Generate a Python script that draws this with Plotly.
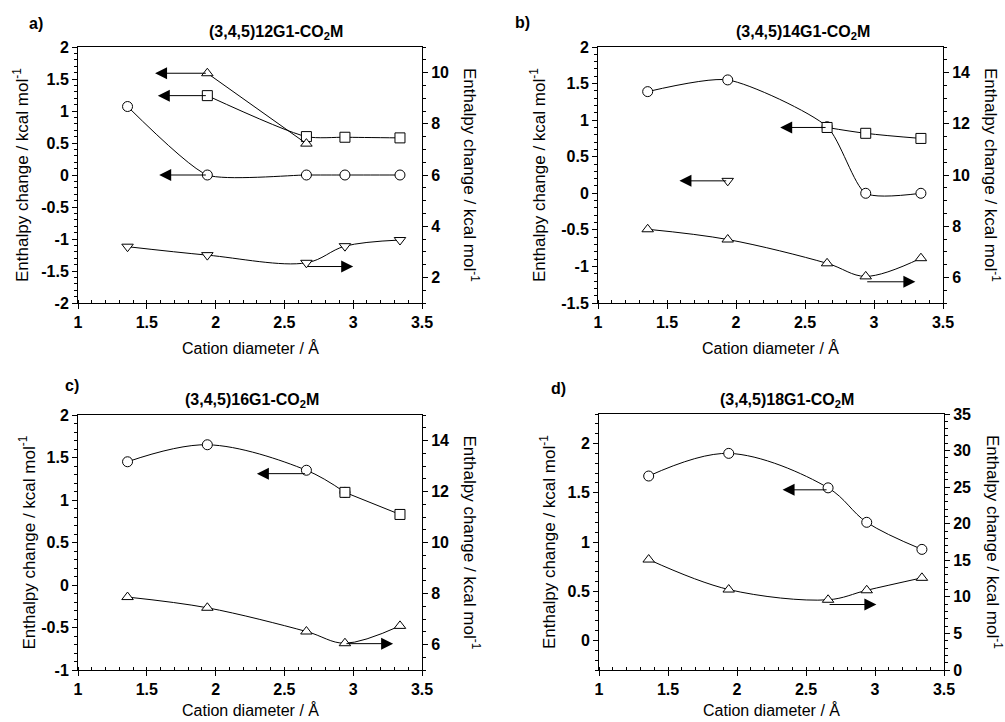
import plotly.graph_objects as go

# ---------------- data ----------------
diam = [1.36, 1.94, 2.66, 2.94, 3.34]

# panel a  (3,4,5)12G1-CO2M
a_circ_x = [1.36, 1.94, 2.66, 2.94, 3.34]
a_circ_y = [1.07, 0.0, 0.0, 0.0, 0.0]
a_sq_x = [1.94, 2.66, 2.94, 3.34]
a_sq_y = [1.24, 0.60, 0.59, 0.58]
a_tri_x = [1.94, 2.66]
a_tri_y = [1.59, 0.49]
a_itri_x = [1.36, 1.94, 2.66, 2.94, 3.34]      # right axis
a_itri_y = [3.20, 2.87, 2.57, 3.22, 3.46]

# panel b  (3,4,5)14G1-CO2M
b_circ_x = [1.36, 1.94, 2.66, 2.94, 3.34]
b_circ_y = [1.39, 1.55, 0.91, 0.0, 0.0]
b_sq_x = [2.66, 2.94, 3.34]
b_sq_y = [0.90, 0.82, 0.75]
b_itri_x = [1.94]
b_itri_y = [0.17]
b_tri_x = [1.36, 1.94, 2.66, 2.94, 3.34]       # right axis
b_tri_y = [7.88, 7.48, 6.55, 6.04, 6.75]

# panel c  (3,4,5)16G1-CO2M
c_circ_x = [1.36, 1.94, 2.66, 2.94]
c_circ_y = [1.45, 1.65, 1.35, 1.09]
c_sq_x = [2.94, 3.34]
c_sq_y = [1.09, 0.83]
c_tri_x = [1.36, 1.94, 2.66, 2.94, 3.34]       # right axis
c_tri_y = [7.86, 7.44, 6.51, 6.05, 6.73]

# panel d  (3,4,5)18G1-CO2M
d_circ_x = [1.36, 1.94, 2.66, 2.94, 3.34]
d_circ_y = [1.67, 1.90, 1.55, 1.20, 0.925]
d_tri_x = [1.36, 1.94, 2.66, 2.94, 3.34]       # right axis
d_tri_y = [15.1, 11.0, 9.6, 10.9, 12.6]

titles = ["(3,4,5)12G1-CO<sub>2</sub>M", "(3,4,5)14G1-CO<sub>2</sub>M",
          "(3,4,5)16G1-CO<sub>2</sub>M", "(3,4,5)18G1-CO<sub>2</sub>M"]
labels = ["a)", "b)", "c)", "d)"]

x_ticks = [1, 1.5, 2, 2.5, 3, 3.5]
left_ticks = [[2, 1.5, 1, 0.5, 0, -0.5, -1, -1.5, -2],
              [2, 1.5, 1, 0.5, 0, -0.5, -1, -1.5],
              [2, 1.5, 1, 0.5, 0, -0.5, -1],
              [2, 1.5, 1, 0.5, 0]]
right_ticks = [[2, 4, 6, 8, 10], [6, 8, 10, 12, 14], [6, 8, 10, 12, 14],
               [0, 5, 10, 15, 20, 25, 30, 35]]
left_ranges = [[-2, 2], [-1.5, 2], [-1, 2], [-0.3, 2.3]]
right_ranges = [[1, 11], [5, 15], [5, 15], [0, 35]]
left_minor = [0.1, 0.1, 0.1, 0.1]
right_minor = [0.5, 0.5, 0.5, 1]

# arrows: (tail x, tail y, head x) – tails sit on data points, horizontal arrows
arrows = [
    [(a_tri_x[0], a_tri_y[0], 1.56), (a_sq_x[0], a_sq_y[0], 1.58),
     (a_circ_x[1], a_circ_y[1], 1.59), (a_itri_x[2], -1.43, 3.0)],
    [(b_sq_x[0], b_sq_y[0], 2.32), (b_itri_x[0], b_itri_y[0], 1.59),
     (b_tri_x[3], -1.21, 3.30)],
    [(c_circ_x[2], 1.31, 2.30), (c_tri_x[3], -0.69, 3.29)],
    [(d_circ_x[2], 1.53, 2.33), (d_tri_x[2], 0.365, 3.01)],
]

# ---------------- layout geometry (pixels) ----------------
W, H = 1005, 722
boxes = [(78, 422, 47, 303), (598, 943, 47, 303),
         (78, 422, 415, 670), (599, 944, 414, 670)]
FONT = "Liberation Sans, Arial, Helvetica, sans-serif"

fig = go.Figure()

def mk(symbol):
    return dict(symbol=symbol, size=10, color="white",
                line=dict(color="black", width=1))

def add(px, x, y, symbol, right=False, shape="spline", smooth=1.0):
    xa = "x" if px == 0 else f"x{px+1}"
    ya_num = 2 * px + (2 if right else 1)
    ya = "y" if ya_num == 1 else f"y{ya_num}"
    fig.add_trace(go.Scatter(x=x, y=y, mode="lines+markers", xaxis=xa, yaxis=ya,
                             line=dict(color="black", width=1, shape=shape, smoothing=smooth),
                             marker=mk(symbol), showlegend=False, cliponaxis=False))

# panel a
add(0, a_circ_x, a_circ_y, "circle", smooth=0.55)
add(0, a_sq_x, a_sq_y, "square", smooth=0.7)
add(0, a_tri_x, a_tri_y, "triangle-up", shape="linear")
add(0, a_itri_x, a_itri_y, "triangle-down", right=True)
# panel b
add(1, b_circ_x, b_circ_y, "circle", smooth=0.65)
add(1, b_sq_x, b_sq_y, "square")
add(1, b_itri_x, b_itri_y, "triangle-down")
add(1, b_tri_x, b_tri_y, "triangle-up", right=True)
# panel c
add(2, c_circ_x, c_circ_y, "circle")
add(2, c_sq_x, c_sq_y, "square")
add(2, c_tri_x, c_tri_y, "triangle-up", right=True)
# panel d
add(3, d_circ_x, d_circ_y, "circle")
add(3, d_tri_x, d_tri_y, "triangle-up", right=True)

axis_common = dict(showgrid=False, zeroline=False, linecolor="black", linewidth=1,
                   automargin=False,
                   ticks="outside", ticklen=5, tickcolor="black", tickwidth=1,
                   tickfont=dict(family=FONT, size=16, color="black", weight="bold"))

def fmt(v):
    return f"{v:g}"

layout = dict(width=W, height=H, margin=dict(l=0, r=0, t=0, b=0, autoexpand=False),
              paper_bgcolor="white", plot_bgcolor="white", showlegend=False)
annotations = []

left_title_off = [57, 60, 51, 51]
right_title_off = [49, 49, 50, 50]
xtitle_off = [45, 45, 40, 40]

for i, (l, r, t, b) in enumerate(boxes):
    xd = [l / W, r / W]
    yd = [1 - b / H, 1 - t / H]
    xk = "xaxis" if i == 0 else f"xaxis{i+1}"
    yl_n = 2 * i + 1
    yr_n = 2 * i + 2
    ylk = "yaxis" if yl_n == 1 else f"yaxis{yl_n}"
    yrk = f"yaxis{yr_n}"
    yl_ref = "y" if yl_n == 1 else f"y{yl_n}"
    xref = "x" if i == 0 else f"x{i+1}"

    layout[xk] = dict(axis_common, domain=xd, range=[1, 3.5], anchor=yl_ref,
                      mirror=True, showline=True, tickmode="array",
                      tickvals=x_ticks, ticktext=[fmt(v) for v in x_ticks],
                      minor=dict(dtick=0.1, tick0=1, ticks="inside", ticklen=3,
                                 tickcolor="black"))
    layout[ylk] = dict(axis_common, domain=yd, range=left_ranges[i], anchor=xref,
                       showline=True, tickmode="array",
                       tickvals=left_ticks[i], ticktext=[fmt(v) for v in left_ticks[i]],
                       minor=dict(dtick=left_minor[i], tick0=0, ticks="outside",
                                  ticklen=3, tickcolor="black"))
    layout[yrk] = dict(axis_common, domain=yd, range=right_ranges[i], anchor=xref,
                       overlaying=yl_ref, side="right", showline=True,
                       tickmode="array", tickvals=right_ticks[i],
                       ticktext=[fmt(v) for v in right_ticks[i]],
                       minor=dict(dtick=right_minor[i], tick0=0, ticks="outside",
                                  ticklen=3, tickcolor="black"))

    cx = (l + r) / 2
    cy = (t + b) / 2
    # x axis title
    annotations.append(dict(text="Cation diameter / Å", xref="paper", yref="paper",
                            x=cx / W, y=1 - (b + xtitle_off[i]) / H, showarrow=False,
                            font=dict(family=FONT, size=16, color="black"),
                            xanchor="center", yanchor="middle"))
    # left y title
    annotations.append(dict(text="Enthalpy change / kcal mol<sup>-1</sup>",
                            xref="paper", yref="paper", x=(l - left_title_off[i]) / W,
                            y=1 - cy / H, showarrow=False, textangle=-90,
                            font=dict(family=FONT, size=17, color="black"),
                            xanchor="center", yanchor="middle"))
    # right y title
    annotations.append(dict(text="Enthalpy change / kcal mol<sup>-1</sup>",
                            xref="paper", yref="paper", x=(r + right_title_off[i]) / W,
                            y=1 - cy / H, showarrow=False, textangle=90,
                            font=dict(family=FONT, size=17, color="black"),
                            xanchor="center", yanchor="middle"))

# titles and panel labels (pixel anchors)
title_pos = [(276, 32), (803, 32), (252, 400), (787, 400)]
label_pos = [(36, 23), (522, 22), (72, 385), (558, 388)]
for i in range(4):
    tx, ty = title_pos[i]
    annotations.append(dict(text=f"<b>{titles[i]}</b>", xref="paper", yref="paper",
                            x=tx / W, y=1 - ty / H, showarrow=False,
                            font=dict(family=FONT, size=16, color="black"),
                            xanchor="center", yanchor="middle"))
    lx, ly = label_pos[i]
    annotations.append(dict(text=f"<b>{labels[i]}</b>", xref="paper", yref="paper",
                            x=lx / W, y=1 - ly / H, showarrow=False,
                            font=dict(family=FONT, size=16, color="black"),
                            xanchor="center", yanchor="middle"))

# arrows
for i, lst in enumerate(arrows):
    xref = "x" if i == 0 else f"x{i+1}"
    yref = "y" if i == 0 else f"y{2*i+1}"
    for (tx, ty, hx) in lst:
        annotations.append(dict(x=hx, y=ty, ax=tx, ay=ty, xref=xref, yref=yref,
                                axref=xref, ayref=yref, text="", showarrow=True,
                                arrowhead=2, arrowsize=2.4, arrowwidth=1,
                                arrowcolor="black", standoff=0, startstandoff=0))

layout["annotations"] = annotations
fig.update_layout(**layout)
fig.write_html("out.html", config={"displayModeBar": False},
               post_script="document.body.style.margin='0';document.body.style.overflow='hidden';")
